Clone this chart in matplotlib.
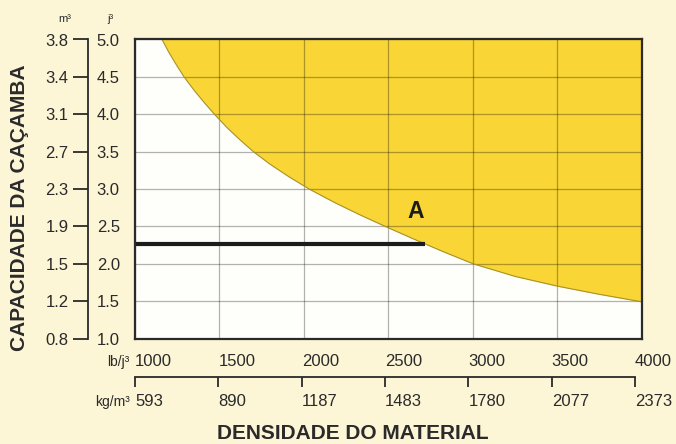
import matplotlib
matplotlib.use("Agg")
from matplotlib import pyplot as plt

# bucket capacity scales (yd3 on the grid, m3 shown beside it)
j3_ticks = [1.0, 1.5, 2.0, 2.5, 3.0, 3.5, 4.0, 4.5, 5.0]
m3_labels = ["0.8", "1.2", "1.5", "1.9", "2.3", "2.7", "3.1", "3.4", "3.8"]

# material density scales
lb_ticks = [1000, 1500, 2000, 2500, 3000, 3500, 4000]
kg_ticks = [593, 890, 1187, 1483, 1780, 2077, 2373]

# limit curve (density lb/yd3 -> capacity yd3)
curve_x = [1160, 1200, 1245, 1290, 1350, 1410, 1470, 1545, 1620, 1700, 1800, 1910,
           2030, 2180, 2330, 2480, 2650, 2820, 3000, 3250, 3500, 3750, 4000]
curve_y = [5.00, 4.83, 4.66, 4.50, 4.32, 4.155, 4.00, 3.82, 3.66, 3.50, 3.33, 3.165,
           3.00, 2.82, 2.655, 2.50, 2.33, 2.165, 2.00, 1.83, 1.70, 1.59, 1.49]

# example bucket line and its point A
line_x = [1000, 2715]
line_y = 2.26
point_a = (2663, 2.70)

bg = "#fcf5d6"
yellow = "#f9d535"
ink = "#2a2a2a"

plt.rcParams['font.family'] = ['Liberation Sans', 'DejaVu Sans']

fig = plt.figure(figsize=(6.76, 4.44), dpi=100, facecolor=bg)
W, H = 676, 444

# main grid
ax = fig.add_axes([135 / W, 1 - 338.5 / H, 507 / W, 299 / H])
ax.set_facecolor("#fefefa")
ax.set_xlim(lb_ticks[0], lb_ticks[-1])
ax.set_ylim(j3_ticks[0], j3_ticks[-1])

ax.fill_between(curve_x, curve_y, j3_ticks[-1], color=yellow, lw=0, zorder=1)
ax.plot(curve_x, curve_y, color="#a89225", lw=0.8, zorder=3)
ax.plot(line_x, [line_y, line_y], color="#1c1c1c", lw=3, solid_capstyle="butt", zorder=4)
ax.text(point_a[0], point_a[1], "A", fontsize=16.5, weight="bold", color="#1c1c1c",
        ha="center", va="center", zorder=5)

ax.set_xticks(lb_ticks)
ax.set_yticks(j3_ticks)
ax.set_axisbelow(False)
ax.grid(True, color="k", alpha=0.3, lw=0.9)
for s in ax.spines.values():
    s.set_linewidth(1.6)
    s.set_color(ink)
    s.set_zorder(6)

ax.set_yticklabels([f"{v:.1f}" for v in j3_ticks])
ax.tick_params(axis="x", length=0, labelbottom=False)
ax.tick_params(axis="y", length=0, pad=27.5, labelsize=12, labelcolor=ink)
for lbl in ax.get_yticklabels():
    lbl.set_ha("left")

# m3 bracket on the left
axm = fig.add_axes([88 / W, 1 - 338.5 / H, 0.0001, 299 / H])
axm.set_ylim(j3_ticks[0], j3_ticks[-1])
axm.set_facecolor("none")
for k in ["top", "bottom", "left"]:
    axm.spines[k].set_visible(False)
axm.spines["right"].set_linewidth(1.3)
axm.spines["right"].set_color(ink)
axm.set_xticks([])
axm.set_yticks(j3_ticks)
axm.set_yticklabels(m3_labels)
axm.tick_params(axis="y", direction="out", length=11, width=1.3, color=ink,
                pad=3, labelsize=12, labelcolor=ink)

# kg/m3 bracket below
axk = fig.add_axes([135 / W, 1 - 387 / H, 500 / W, 10 / H])
axk.set_xlim(kg_ticks[0], kg_ticks[-1])
axk.set_facecolor("none")
for k in ["bottom", "left", "right"]:
    axk.spines[k].set_visible(False)
axk.spines["top"].set_linewidth(1.3)
axk.spines["top"].set_color(ink)
axk.set_yticks([])
axk.set_xticks(kg_ticks)
axk.set_xticklabels([str(v) for v in kg_ticks])
axk.tick_params(axis="x", top=True, bottom=False, direction="in", length=7.5, width=1.3,
                color=ink, labelbottom=True, pad=5, labelsize=12, labelcolor=ink)
for lbl in axk.get_xticklabels():
    lbl.set_ha("left")

# lb/yd3 labels sit above the same bracket
axl = fig.add_axes([135 / W, 1 - 387 / H, 500 / W, 10 / H])
axl.set_xlim(lb_ticks[0], lb_ticks[-1])
axl.set_facecolor("none")
for s in axl.spines.values():
    s.set_visible(False)
axl.set_yticks([])
axl.set_xticks(lb_ticks)
axl.set_xticklabels([str(v) for v in lb_ticks])
axl.tick_params(axis="x", top=False, bottom=False, length=0, labelbottom=False,
                labeltop=True, pad=6, labelsize=12, labelcolor=ink)
for lbl in axl.get_xticklabels():
    lbl.set_ha("left")

# unit captions and titles
fig.text(65 / W, 1 - 19 / H, "m³", fontsize=8, color=ink, ha="center", va="center")
fig.text(110 / W, 1 - 19 / H, "j³", fontsize=8, color=ink, ha="center", va="center")
fig.text(129 / W, 1 - 362 / H, "lb/j³", fontsize=10, color=ink, ha="right", va="center")
fig.text(130 / W, 1 - 402 / H, "kg/m³", fontsize=10, color=ink, ha="right", va="center")

fig.text(20 / W, 1 - 208 / H, "CAPACIDADE DA CAÇAMBA", rotation=90, fontsize=15,
         weight="bold", color=ink, ha="center", va="center")
fig.text(353 / W, 1 - 433 / H, "DENSIDADE DO MATERIAL", fontsize=15,
         weight="bold", color=ink, ha="center", va="center")

fig.savefig("out.png", dpi=100, facecolor=bg)
